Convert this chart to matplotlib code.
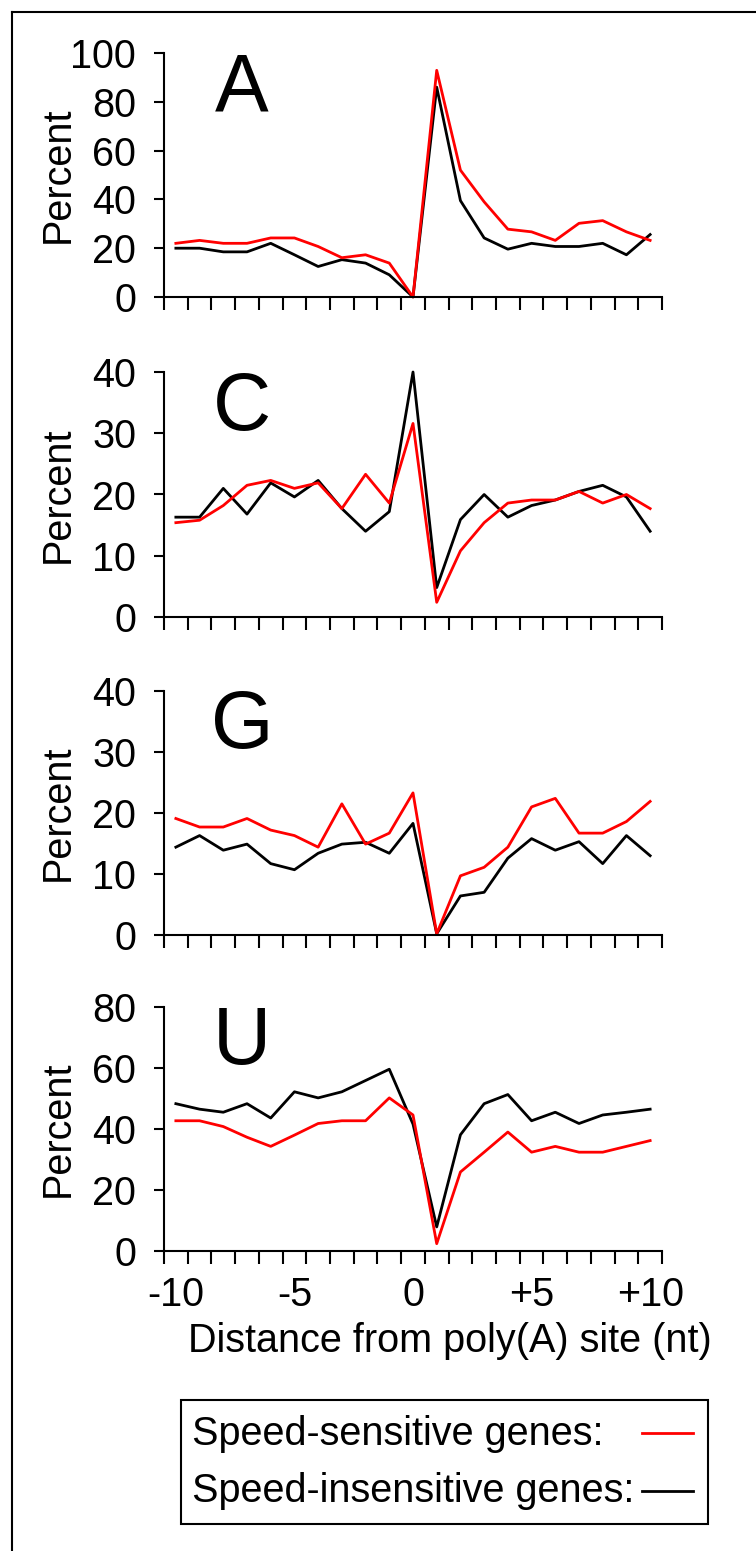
import numpy as np
import matplotlib
matplotlib.use("Agg")
import matplotlib.pyplot as plt
from matplotlib.lines import Line2D
from matplotlib.patches import Rectangle

plt.rcParams["font.family"] = ["Liberation Sans", "DejaVu Sans"]

# distance from poly(A) site (nt)
pos = list(range(-10, 11))

# Panel A
a_sens = [22, 23.2, 22, 22, 24.2, 24.2, 20.7, 16.1, 17.3, 13.9, 0,
          92.9, 52, 39, 27.8, 26.7, 23.2, 30.2, 31.3, 26.7, 23.2]
a_insens = [20, 20, 18.5, 18.5, 22, 17.3, 12.5, 15.3, 13.9, 9.1, 0,
            86, 39.5, 24.2, 19.6, 22, 20.7, 20.7, 22, 17.3, 25.6]
# Panel C
c_sens = [15.4, 15.8, 18.2, 21.5, 22.3, 21, 21.9, 17.7, 23.3, 18.6, 31.6,
          2.4, 10.8, 15.4, 18.6, 19.1, 19.1, 20.5, 18.6, 20, 17.7]
c_insens = [16.3, 16.3, 21, 16.8, 21.9, 19.6, 22.3, 17.7, 14, 17.2, 40,
            4.8, 15.9, 20, 16.3, 18.2, 19.1, 20.5, 21.5, 19.6, 14]
# Panel G
g_sens = [19.1, 17.7, 17.7, 19.1, 17.2, 16.3, 14.4, 21.5, 14.9, 16.7, 23.3,
          0.2, 9.7, 11.1, 14.4, 21, 22.4, 16.7, 16.7, 18.6, 21.9]
g_insens = [14.4, 16.3, 13.9, 14.9, 11.7, 10.7, 13.4, 14.9, 15.2, 13.4, 18.3,
            0.2, 6.4, 7, 12.6, 15.8, 13.9, 15.3, 11.7, 16.3, 13]
# Panel U
u_sens = [42.7, 42.7, 40.8, 37.3, 34.3, 38, 41.8, 42.7, 42.7, 50.2, 44.6,
          2.4, 25.9, 32.4, 39, 32.4, 34.3, 32.4, 32.4, 34.3, 36.2]
u_insens = [48.3, 46.5, 45.5, 48.3, 43.6, 52.2, 50.2, 52.2, 55.9, 59.6, 41.6,
            7.9, 38.1, 48.3, 51.3, 42.7, 45.5, 41.8, 44.6, 45.5, 46.5]

letters = ["A", "C", "G", "U"]
ymaxes = [100, 40, 40, 80]
ysteps = [20, 10, 10, 20]
sens_all = [a_sens, c_sens, g_sens, u_sens]
insens_all = [a_insens, c_insens, g_insens, u_insens]
xtick_pos = [-10, -5, 0, 5, 10]
xtick_labels = ["-10", "-5", "0", "+5", "+10"]
legend_labels = ["Speed-sensitive genes:", "Speed-insensitive genes:"]
legend_colors = ["red", "black"]

FS = 28.5
W, H = 756, 1551
fig = plt.figure(figsize=(W / 100, H / 100), dpi=100)

# panel top/bottom in pixels
tops = [53, 372, 691, 1007]
bottoms = [297, 617, 935, 1251]
left_px, right_px = 164, 662

for i in range(4):
    ax = fig.add_axes([left_px / W, 1 - bottoms[i] / H,
                       (right_px - left_px) / W, (bottoms[i] - tops[i]) / H])
    ax.plot(pos, insens_all[i], color=legend_colors[1], lw=2, clip_on=False)
    ax.plot(pos, sens_all[i], color=legend_colors[0], lw=2, clip_on=False)
    ax.set_xlim(-10.5, 10.5)
    ax.set_ylim(0, ymaxes[i])
    ax.set_yticks(np.arange(0, ymaxes[i] + 1, ysteps[i]))
    for s in ["top", "right"]:
        ax.spines[s].set_visible(False)
    for s in ["left", "bottom"]:
        ax.spines[s].set_linewidth(1.5)
    ax.tick_params(axis="y", labelsize=FS, length=7, width=1.5, pad=13)
    ax.set_xticks(np.arange(-10.5, 10.6, 1), minor=True)
    ax.tick_params(axis="x", which="minor", length=9.5, width=1.5)
    ax.set_xticks(xtick_pos)
    if i == 3:
        ax.set_xticklabels(xtick_labels)
        ax.tick_params(axis="x", which="major", length=0, labelsize=FS, pad=18)
        ax.set_xlabel("Distance from poly(A) site (nt)", fontsize=FS, va="top")
        ax.xaxis.set_label_coords(0.574, -0.29)
    else:
        ax.set_xticklabels([])
        ax.tick_params(axis="x", which="major", length=0)
    ax.set_ylabel("Percent", fontsize=FS, va="center")
    ax.yaxis.set_label_coords(-0.213, 0.5)
    ax.text(0.157, 0.765, letters[i], transform=ax.transAxes, fontsize=58,
            ha="center", va="baseline")

# legend box: labels left, line samples right
fig.add_artist(Rectangle((181 / W, 1 - 1524 / H), (708 - 181) / W, (1524 - 1400) / H,
                         transform=fig.transFigure, facecolor="white",
                         edgecolor="black", lw=1.5))
for lab, col, base_y, line_y in zip(legend_labels, legend_colors, [1445, 1502], [1433, 1491]):
    fig.text(192 / W, 1 - base_y / H, lab, fontsize=FS, va="baseline", ha="left")
    fig.add_artist(Line2D([642 / W, 693 / W], [1 - line_y / H] * 2, color=col, lw=2))

# outer frame (left and top edges)
fig.add_artist(Line2D([12 / W, 12 / W], [0, 1 - 11.5 / H], color="black", lw=1.5))
fig.add_artist(Line2D([12 / W, 1], [1 - 11.5 / H, 1 - 11.5 / H], color="black", lw=1.5))

fig.savefig("out.png", dpi=100)
